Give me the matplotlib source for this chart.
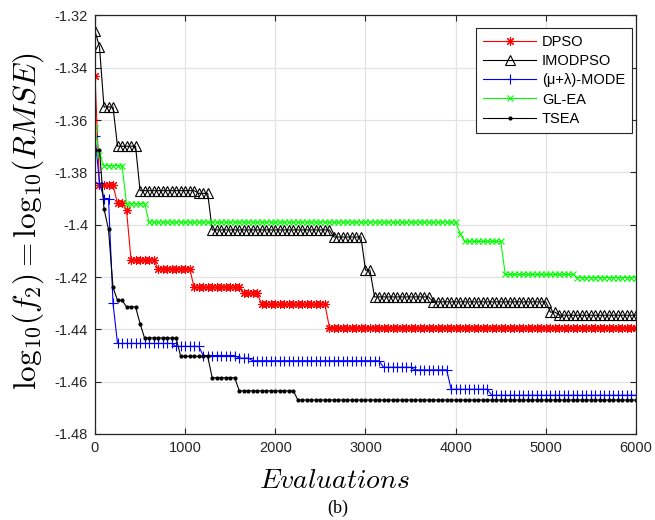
import matplotlib.pyplot as plt
from matplotlib.ticker import FormatStrFormatter
import numpy as np

plt.rcParams['font.family'] = ['Liberation Sans', 'DejaVu Sans']
plt.rcParams['mathtext.fontset'] = 'cm'

# best value recorded every 50 evaluations
evals = np.arange(0, 6001, 50)

# each curve kept as levels + how many samples stay on that level
dpso_lvl = [-1.343, -1.385, -1.3918, -1.3945, -1.4135, -1.4168, -1.424, -1.4263, -1.4305, -1.4393]
dpso_cnt = [1, 4, 2, 1, 6, 8, 11, 4, 15, 69]

imodpso_lvl = [-1.326, -1.332, -1.355, -1.370, -1.387, -1.388, -1.402, -1.4047,
               -1.4174, -1.4276, -1.4295, -1.4334, -1.4346]
imodpso_cnt = [1, 1, 3, 5, 13, 3, 27, 7, 2, 13, 26, 2, 18]

mode_lvl = [-1.366, -1.384, -1.390, -1.430, -1.4454, -1.4465, -1.4500, -1.4510,
            -1.4520, -1.4545, -1.4555, -1.4629, -1.4652]
mode_cnt = [1, 1, 2, 1, 13, 6, 8, 3, 29, 7, 8, 9, 33]

glea_lvl = [-1.363, -1.3735, -1.3774, -1.392, -1.399, -1.4034, -1.4064, -1.419, -1.4202]
glea_cnt = [1, 1, 5, 5, 69, 1, 9, 16, 14]

tsea_lvl = [-1.3716, -1.3939, -1.4018, -1.424, -1.4289, -1.4314, -1.4378, -1.4433,
            -1.4503, -1.4585, -1.4635, -1.4670]
tsea_cnt = [2, 1, 1, 1, 2, 3, 1, 8, 7, 6, 13, 76]

xticks = [0, 1000, 2000, 3000, 4000, 5000, 6000]
yticks = [-1.48, -1.46, -1.44, -1.42, -1.40, -1.38, -1.36, -1.34, -1.32]

fig = plt.figure(figsize=(6.55, 5.2), dpi=100)
ax = fig.add_axes([0.145, 0.1654, 0.826, 0.805])

ax.plot(evals, np.repeat(dpso_lvl, dpso_cnt), color='red', lw=0.8,
        marker=(8, 2, 0), ms=6.5, mew=0.8, label='DPSO')
ax.plot(evals, np.repeat(imodpso_lvl, imodpso_cnt), color='black', lw=0.8,
        marker='^', ms=6.5, mfc='none', mew=0.8, label='IMODPSO')
ax.plot(evals, np.repeat(mode_lvl, mode_cnt), color='blue', lw=0.8,
        marker='+', ms=7, mew=0.8, label='(μ+λ)-MODE')
ax.plot(evals, np.repeat(glea_lvl, glea_cnt), color=(0, 1, 0), lw=0.8,
        marker='x', ms=4.5, mew=0.8, label='GL-EA')
ax.plot(evals, np.repeat(tsea_lvl, tsea_cnt), color='black', lw=0.8,
        marker='.', ms=4, label='TSEA')

ax.set_xlim(0, 6000)
ax.set_ylim(-1.48, -1.32)
ax.set_xticks(xticks)
ax.set_yticks(yticks)
ax.yaxis.set_major_formatter(FormatStrFormatter('%g'))
ax.grid(True, color='#e3e3e3', lw=0.9)
ax.set_axisbelow(True)
ax.tick_params(direction='in', top=True, right=True, length=4, width=0.8,
               labelsize=10.5, colors='#262626', pad=5)
for s in ax.spines.values():
    s.set_color('#262626')
    s.set_linewidth(0.9)

leg = ax.legend(loc='upper right', bbox_to_anchor=(0.993, 0.970), borderaxespad=0,
                fontsize=10.5, handlelength=3.6, labelspacing=0.35, fancybox=False,
                framealpha=1, edgecolor='#262626', borderpad=0.5, handletextpad=0.4)
leg.get_frame().set_linewidth(0.8)

fig.text(0.043, 0.574, r'$\mathrm{log}_{10}(f_2)=\mathrm{log}_{10}(RMSE)$', rotation=90,
         ha='center', va='center', fontsize=22.5)
fig.text(0.511, 0.075, r'$Evaluations$', ha='center', va='center', fontsize=20)
fig.text(0.515, 0.023, '(b)', ha='center', va='center', fontsize=13,
         family='Liberation Serif')

fig.savefig('out.png', dpi=100)
